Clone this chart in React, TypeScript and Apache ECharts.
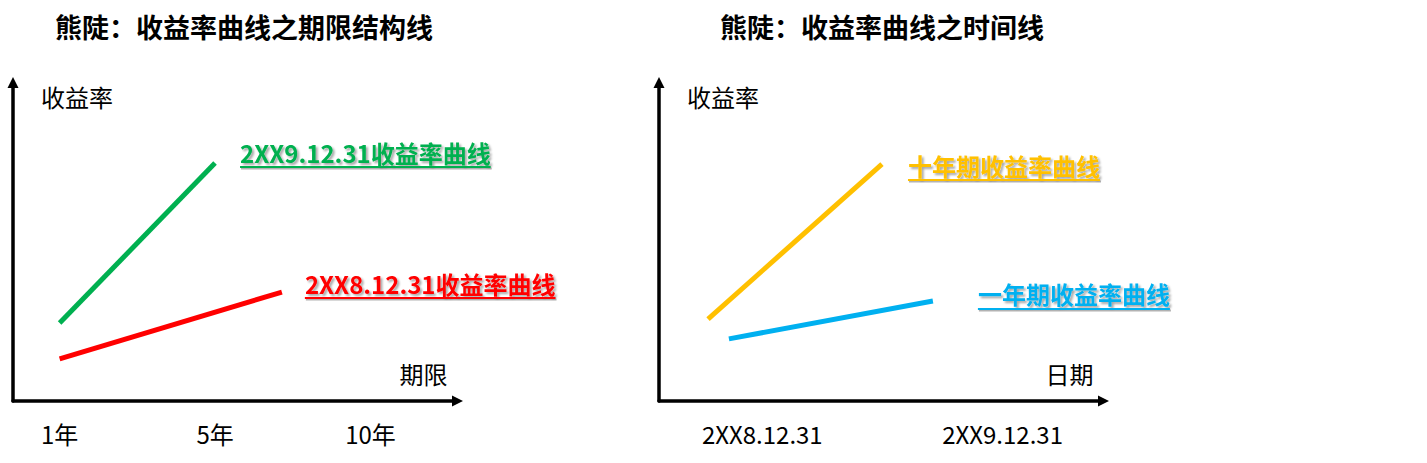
import React, { useEffect, useRef } from "react";
import * as echarts from "echarts";

const FONT = '"Noto Sans CJK SC", "Microsoft YaHei", sans-serif';

// Left panel: term-structure view (x = tenor position, y = schematic yield)
const tenorTicks = [0, 1, 2];
const tenorLabels = ["1年", "5年", "10年"];
const curve2XX9 = [
  [0, 24.5],
  [1, 74.7],
];
const curve2XX8 = [
  [0, 13.2],
  [1.43, 34.2],
];

// Right panel: time view (x = date position, y = schematic yield)
const dateTicks = [0, 1];
const dateLabels = ["2XX8.12.31", "2XX9.12.31"];
const tenYearCurve = [
  [-0.226, 25.7],
  [0.498, 74.4],
];
const oneYearCurve = [
  [-0.139, 19.5],
  [0.71, 31.4],
];

const titles = ["熊陡：收益率曲线之期限结构线", "熊陡：收益率曲线之时间线"];
const seriesNames = [
  "2XX9.12.31收益率曲线",
  "2XX8.12.31收益率曲线",
  "十年期收益率曲线",
  "一年期收益率曲线",
];
const colors = ["#00B050", "#FF0000", "#FFC000", "#00B0F0"];

const LABEL_FONT_SIZE = 24;

function measure(text: string): number {
  const ctx = document.createElement("canvas").getContext("2d");
  if (!ctx) return text.length * LABEL_FONT_SIZE;
  ctx.font = `bold ${LABEL_FONT_SIZE}px ${FONT}`;
  return ctx.measureText(text).width;
}

// Bold label with a drop shadow and an underline bar drawn as a rich-text box
function underlinedLabel(name: string, color: string, offset: number[]) {
  return {
    show: true,
    distance: 0,
    offset,
    formatter: () => `{t|${name}}\n{u|}`,
    rich: {
      t: {
        fontFamily: FONT,
        fontSize: LABEL_FONT_SIZE,
        fontWeight: "bold",
        color,
        lineHeight: 26,
        textShadowColor: "rgba(0,0,0,0.35)",
        textShadowBlur: 2,
        textShadowOffsetX: 2,
        textShadowOffsetY: 2,
      },
      u: {
        width: measure(name),
        height: 2,
        lineHeight: 4,
        backgroundColor: color,
        shadowColor: "rgba(0,0,0,0.3)",
        shadowBlur: 1,
        shadowOffsetX: 1,
        shadowOffsetY: 1.5,
      },
    },
  };
}

const axisLineStyle = {
  show: true,
  onZero: false,
  symbol: ["none", "triangle"],
  symbolSize: [11, 11],
  lineStyle: { color: "#000", width: 3.5 },
};

export default function App() {
  const ref = useRef<HTMLDivElement>(null);

  useEffect(() => {
    if (!ref.current) return;
    const chart = echarts.init(ref.current, null, { renderer: "svg" });

    const grid = (left: number) => ({
      left,
      top: 82.5,
      width: 444.5,
      height: 318.5,
      outerBoundsMode: "none",
    });

    const xAxis = (gridIndex: number, min: number, max: number, ticks: number[], labels: string[], name: string) => ({
      type: "value",
      gridIndex,
      min,
      max,
      axisLine: axisLineStyle,
      axisTick: { show: false },
      splitLine: { show: false },
      axisLabel: {
        customValues: ticks,
        formatter: (v: number) => labels[ticks.indexOf(v)] ?? "",
        fontFamily: FONT,
        fontSize: 24,
        color: "#000",
        margin: 20,
      },
      name,
      nameLocation: "end",
      nameGap: -10,
      nameTextStyle: {
        fontFamily: FONT,
        fontSize: 24,
        color: "#000",
        align: "right",
        verticalAlign: "bottom",
        padding: [0, 0, 16, 0],
      },
    });

    const yAxis = (gridIndex: number) => ({
      type: "value",
      gridIndex,
      min: 0,
      max: 100,
      axisLine: axisLineStyle,
      axisTick: { show: false },
      axisLabel: { show: false },
      splitLine: { show: false },
      name: "收益率",
      nameLocation: "end",
      nameGap: -14,
      nameTextStyle: {
        fontFamily: FONT,
        fontSize: 24,
        color: "#000",
        align: "left",
        verticalAlign: "middle",
        padding: [0, 0, 0, 28],
      },
    });

    const lineSeries = (i: number, data: number[][], axisIndex: number, offset: number[]) => ({
      type: "line",
      name: seriesNames[i],
      xAxisIndex: axisIndex,
      yAxisIndex: axisIndex,
      data,
      showSymbol: false,
      symbol: "none",
      lineStyle: { color: colors[i], width: 5, cap: "butt" },
      endLabel: underlinedLabel(seriesNames[i], colors[i], offset),
      emphasis: { disabled: true },
    });

    chart.setOption({
      animation: false,
      textStyle: { fontFamily: FONT },
      title: [
        {
          text: titles[0],
          left: 55,
          top: 10,
          padding: 0,
          textStyle: { fontFamily: FONT, fontSize: 27, fontWeight: "bold", color: "#000", lineHeight: 32 },
        },
        {
          text: titles[1],
          left: 720,
          top: 10,
          padding: 0,
          textStyle: { fontFamily: FONT, fontSize: 27, fontWeight: "bold", color: "#000", lineHeight: 32 },
        },
      ],
      grid: [grid(13), grid(659)],
      xAxis: [
        xAxis(0, -0.3, 2.56, tenorTicks, tenorLabels, "期限"),
        xAxis(1, -0.43, 1.42, dateTicks, dateLabels, "日期"),
      ],
      yAxis: [yAxis(0), yAxis(1)],
      series: [
        lineSeries(0, curve2XX9, 0, [25, -9]),
        lineSeries(1, curve2XX8, 0, [23, -7]),
        lineSeries(2, tenYearCurve, 1, [26, 3]),
        lineSeries(3, oneYearCurve, 1, [45, -5]),
      ],
    });

    return () => chart.dispose();
  }, []);

  return (
    <div
      ref={ref}
      style={{ position: "absolute", left: 0, top: 0, width: 1427, height: 463, background: "#fff" }}
    />
  );
}
